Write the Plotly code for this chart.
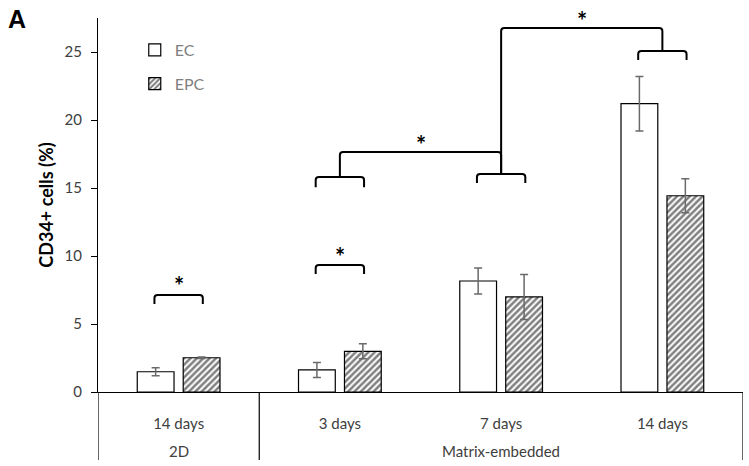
import plotly.graph_objects as go

# ---- data ----
day_labels = ["14 days", "3 days", "7 days", "14 days"]
group_labels = ["2D", "Matrix-embedded"]
group_members = [[0], [1, 2, 3]]
ec_values = [1.49, 1.62, 8.16, 21.2]
ec_errors = [0.30, 0.55, 0.95, 2.0]
epc_values = [2.52, 2.99, 6.99, 14.43]
epc_errors = [0.05, 0.55, 1.65, 1.25]

# significance brackets: (x_left, x_right, y_top, leg_depth)
brackets = [
    (-0.15, 0.15, 7.13, 0.66),
    (0.85, 1.15, 9.34, 0.66),
    (0.85, 1.15, 15.81, 0.75),
    (1.85, 2.15, 16.03, 0.66),
    (2.85, 3.15, 25.07, 0.66),
]
# connectors: (x_left, x_right, y_level, y_from_left, y_from_right)
connectors = [
    (1.0, 2.0, 17.65, 15.81, 16.03),
    (2.0, 3.0, 26.76, 16.03, 25.07),
]
stars = [(0.0, 7.8), (1.0, 10.0), (1.5, 18.2), (2.5, 27.3)]

x = list(range(len(day_labels)))
font_family = "Lato, 'Open Sans', sans-serif"
label_color = "#404040"

fig = go.Figure()
fig.add_trace(go.Bar(
    x=x, y=ec_values, name="EC",
    marker=dict(color="white", line=dict(color="black", width=1.2)),
    error_y=dict(type="data", array=ec_errors, color="#6a6a6a", thickness=1.5, width=4),
    legendgroup="a",
))
fig.add_trace(go.Bar(
    x=x, y=epc_values, name="EPC",
    marker=dict(color="white", line=dict(color="black", width=1.2),
                pattern=dict(shape="/", fgcolor="black", bgcolor="white", size=4.5, solidity=0.55)),
    error_y=dict(type="data", array=epc_errors, color="#6a6a6a", thickness=1.5, width=4),
    legendgroup="b",
))

rx, ry = 0.02, 0.22  # corner rounding in data units
def rounded(p0, p1, p2, p3):
    (x0, y0), (x1, y1), (x2, y2), (x3, y3) = p0, p1, p2, p3
    sx = 1 if x2 > x1 else -1
    sy0 = 1 if y1 > y0 else -1
    sy3 = 1 if y2 > y3 else -1
    return (f"M {x0},{y0} L {x1},{y1 - sy0*ry} Q {x1},{y1} {x1 + sx*rx},{y1} "
            f"L {x2 - sx*rx},{y2} Q {x2},{y2} {x2},{y2 - sy3*ry} L {x3},{y3}")

shapes = []
line_style = dict(color="black", width=2)
for xl, xr, yt, d in brackets:
    shapes.append(dict(type="path", xref="x", yref="y",
                       path=rounded((xl, yt - d), (xl, yt), (xr, yt), (xr, yt - d)),
                       line=line_style))
for xl, xr, yl, yfl, yfr in connectors:
    shapes.append(dict(type="path", xref="x", yref="y",
                       path=rounded((xl, yfl), (xl, yl), (xr, yl), (xr, yfr)),
                       line=line_style))

# axis frame extensions below the x-axis (category table)
frame = dict(color="black", width=1.2)
for xv in [-0.5, 0.5, 3.5]:
    shapes.append(dict(type="line", xref="x", yref="paper", x0=xv, x1=xv, y0=0, y1=-0.182, line=frame))

annotations = []
for sx, sy in stars:
    annotations.append(dict(x=sx, y=sy, xref="x", yref="y", text="<b>*</b>", showarrow=False,
                            font=dict(size=24, color="black", family=font_family)))
for gl, members in zip(group_labels, group_members):
    annotations.append(dict(x=sum(members) / len(members), y=-0.158, xref="x", yref="paper",
                            yanchor="middle", text=gl, showarrow=False,
                            font=dict(size=15, color=label_color, family=font_family)))
annotations.append(dict(xref="paper", yref="paper", x=-0.142, y=1.04, xanchor="left", yanchor="top",
                        text="<b>A</b>", showarrow=False,
                        font=dict(size=25, color="black", family="Arial, sans-serif")))

fig.update_layout(
    width=749, height=466,
    margin=dict(l=98, r=6, t=18, b=74, autoexpand=False),
    paper_bgcolor="white", plot_bgcolor="white",
    barmode="group", bargap=0.43, bargroupgap=0.2,
    font=dict(family=font_family, size=15, color=label_color),
    showlegend=True,
    legend=dict(x=0.057, y=0.96, xanchor="left", yanchor="top",
                traceorder="grouped", tracegroupgap=10,
                font=dict(size=16, color="#7f7f7f"),
                bgcolor="rgba(0,0,0,0)", itemwidth=30),
    shapes=shapes, annotations=annotations,
)
fig.update_xaxes(range=[-0.5, 3.5], tickvals=x, ticktext=day_labels, automargin=False,
                 showline=True, linecolor="black", linewidth=1.2,
                 ticks="", showgrid=False, zeroline=False,
                 ticklabelstandoff=18, tickfont=dict(size=15, color=label_color))
fig.update_yaxes(range=[0, 27.5], tickvals=[0, 5, 10, 15, 20, 25], automargin=False,
                 showline=True, linecolor="black", linewidth=1.2,
                 ticks="outside", ticklen=6, tickcolor="black",
                 ticklabelstandoff=6,
                 showgrid=False, zeroline=False,
                 tickfont=dict(size=15, color=label_color),
                 title=dict(text="<b>CD34+ cells (%)</b>", standoff=6,
                            font=dict(size=18, color="black", family=font_family)))

fig.write_html(
    "out.html",
    config={"responsive": False, "displayModeBar": False},
    post_script="document.body.style.margin='0px';"
                "Plotly.relayout('{plot_id}', {width: 749, height: 466});",
)
